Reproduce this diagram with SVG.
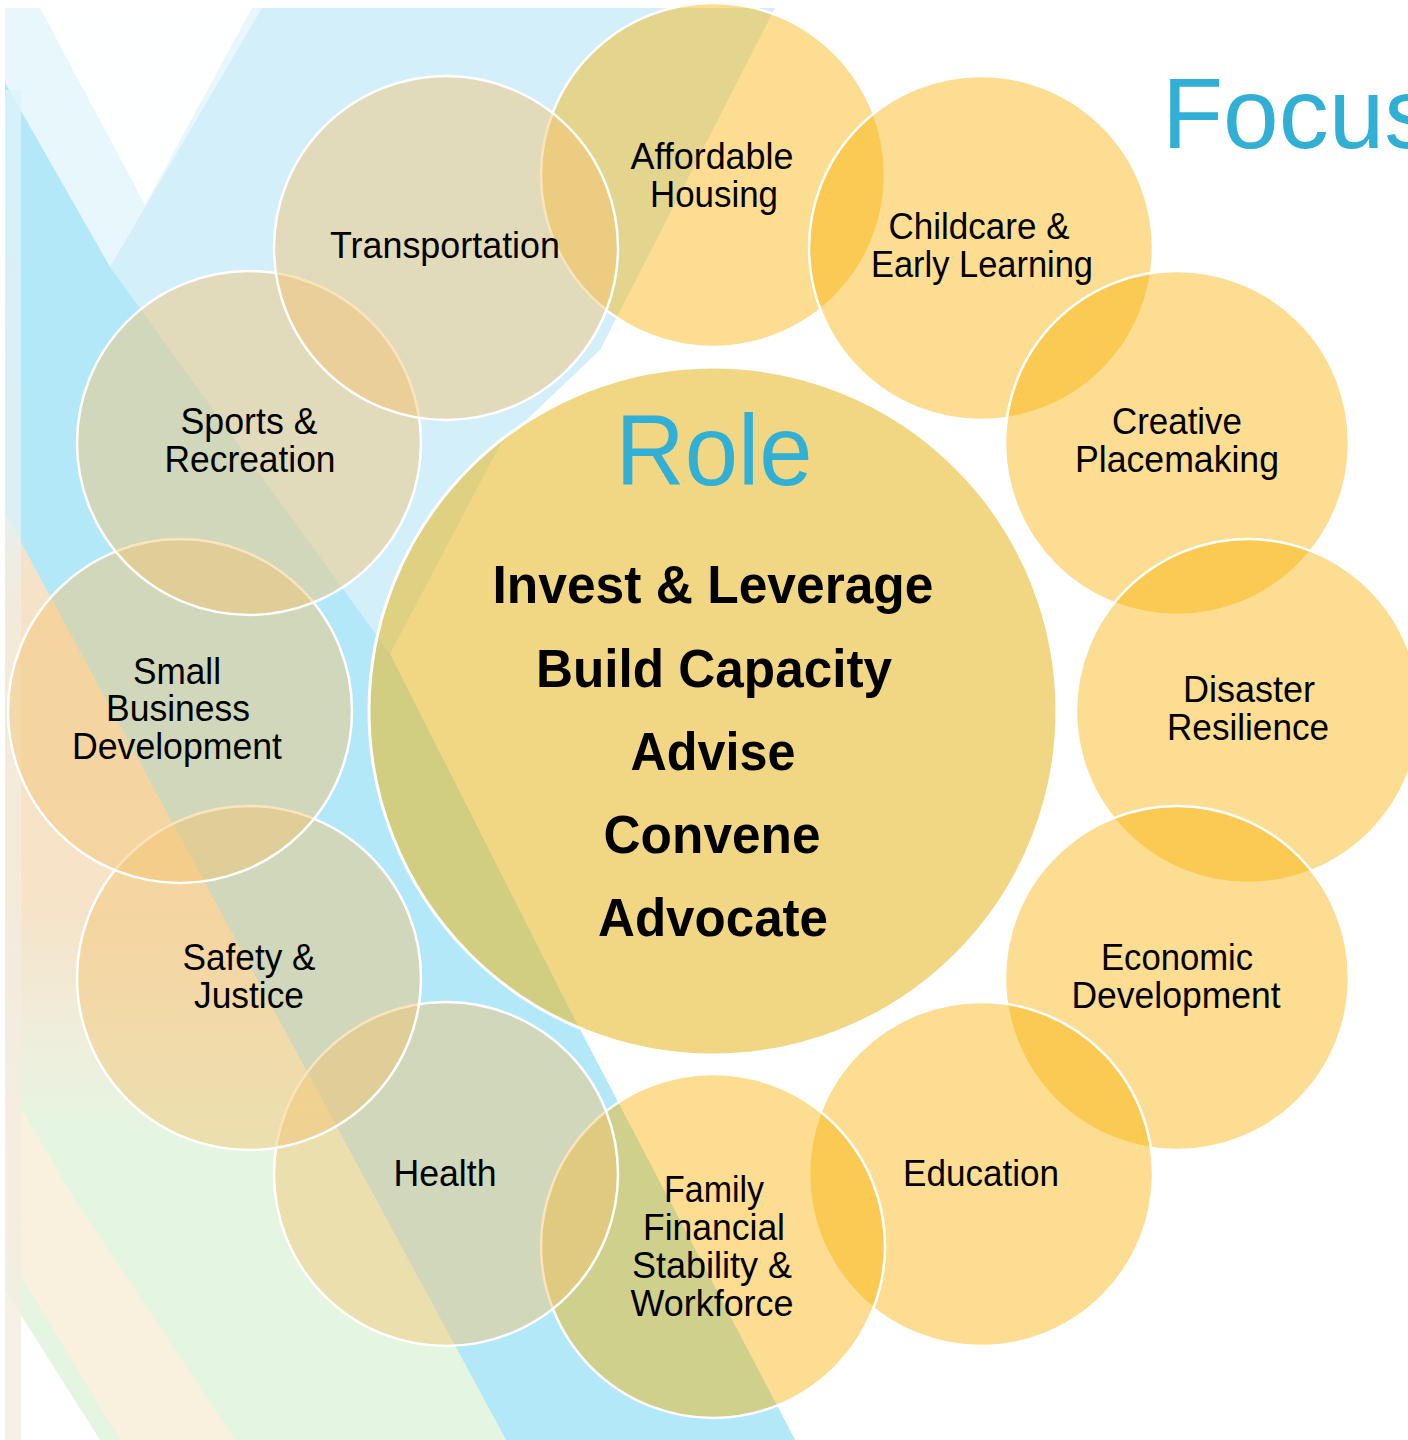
<svg xmlns="http://www.w3.org/2000/svg" width="1408" height="1440" viewBox="0 0 1408 1440">
<defs>
<style>
.gold{fill:#F8B000;fill-opacity:0.43;stroke:#FFFFFF;stroke-width:2.5}
.pale{fill:#F5C36E;fill-opacity:0.45;stroke:#FFFFFF;stroke-width:2.5}
.core{fill:#E8BC32;fill-opacity:0.6;stroke:#FFFFFF;stroke-width:3}
.lbl{font-family:"Liberation Sans",Arial,sans-serif;font-size:36px;fill:#000;text-anchor:middle}
.big{font-family:"Liberation Sans",Arial,sans-serif;font-size:54px;font-weight:bold;fill:#000;text-anchor:middle}
.ttl{font-family:"Liberation Sans",Arial,sans-serif;font-size:100px;fill:#31AFD4}
</style>
<clipPath id="pic"><rect x="5" y="8" width="823" height="1432"/></clipPath>
<linearGradient id="lowleft" gradientUnits="userSpaceOnUse" x1="0" y1="513" x2="0" y2="1440">
<stop offset="0" stop-color="#F6E2C6"/>
<stop offset="0.42" stop-color="#F6E3C8"/>
<stop offset="0.57" stop-color="#EFEEDC"/>
<stop offset="0.67" stop-color="#E4F6E2"/>
<stop offset="1" stop-color="#E4F6E2"/>
</linearGradient>
<linearGradient id="strip" gradientUnits="userSpaceOnUse" x1="0" y1="90" x2="0" y2="1440">
<stop offset="0" stop-color="#DDF3FB"/>
<stop offset="0.32" stop-color="#E6F2F2"/>
<stop offset="0.4" stop-color="#F3ECDE"/>
<stop offset="1" stop-color="#F4EEE2"/>
</linearGradient>
</defs>
<rect x="0" y="0" width="1408" height="1440" fill="#FFFFFF"/>
<g id="background" clip-path="url(#pic)">
<polygon points="5,8 775,8 600,350 500,445 390,654 575,1020 795,1440 5,1440" fill="#D3EFF9"/>
<polygon points="5,8 262,8 110,267 5,83" fill="#E7F7FC"/>
<polygon points="40,8 252,8 145,205" fill="#FFFFFF" fill-opacity="0.95"/>
<polygon points="5,83 110,267 390,654 575,1020 795,1440 506,1440 5,513" fill="#B2E8F8"/>
<polygon points="5,513 506,1440 5,1440" fill="url(#lowleft)"/>
<polygon points="5,1080 75,1200 235,1440 120,1440 5,1250" fill="#FBF0DE" fill-opacity="0.9"/>
<polygon points="5,1290 100,1440 5,1440" fill="#FFFFFF"/>
<rect x="5" y="90" width="16" height="1350" fill="url(#strip)" fill-opacity="0.8"/>
</g>
<text class="ttl" x="1162" y="148">Focus</text>
<g id="role">
<circle class="core" cx="713" cy="711" r="344"/>
<text class="ttl" x="714" y="485" text-anchor="middle" textLength="197" lengthAdjust="spacingAndGlyphs">Role</text>
<text class="big" x="713" y="603" textLength="441" lengthAdjust="spacingAndGlyphs">Invest &amp; Leverage</text>
<text class="big" x="714" y="687" textLength="356" lengthAdjust="spacingAndGlyphs">Build Capacity</text>
<text class="big" x="713" y="770" textLength="165" lengthAdjust="spacingAndGlyphs">Advise</text>
<text class="big" x="712" y="853" textLength="217" lengthAdjust="spacingAndGlyphs">Convene</text>
<text class="big" x="713" y="936" textLength="230" lengthAdjust="spacingAndGlyphs">Advocate</text>
</g>
<g id="affordable-housing">
<circle class="gold" cx="713" cy="175" r="172"/>
<text class="lbl" x="712" y="169" textLength="163" lengthAdjust="spacingAndGlyphs">Affordable</text>
<text class="lbl" x="714" y="207" textLength="128" lengthAdjust="spacingAndGlyphs">Housing</text>
</g>
<g id="childcare">
<circle class="gold" cx="981" cy="248" r="172"/>
<text class="lbl" x="979" y="239" textLength="181" lengthAdjust="spacingAndGlyphs">Childcare &amp;</text>
<text class="lbl" x="982" y="277" textLength="222" lengthAdjust="spacingAndGlyphs">Early Learning</text>
</g>
<g id="creative-placemaking">
<circle class="gold" cx="1177" cy="443" r="172"/>
<text class="lbl" x="1177" y="434" textLength="130" lengthAdjust="spacingAndGlyphs">Creative</text>
<text class="lbl" x="1177" y="472" textLength="204" lengthAdjust="spacingAndGlyphs">Placemaking</text>
</g>
<g id="disaster-resilience">
<circle class="gold" cx="1248" cy="711" r="172"/>
<text class="lbl" x="1249" y="702" textLength="132" lengthAdjust="spacingAndGlyphs">Disaster</text>
<text class="lbl" x="1248" y="740" textLength="162" lengthAdjust="spacingAndGlyphs">Resilience</text>
</g>
<g id="economic-development">
<circle class="gold" cx="1177" cy="978" r="172"/>
<text class="lbl" x="1177" y="970" textLength="152" lengthAdjust="spacingAndGlyphs">Economic</text>
<text class="lbl" x="1176" y="1008" textLength="209" lengthAdjust="spacingAndGlyphs">Development</text>
</g>
<g id="education">
<circle class="gold" cx="981" cy="1174" r="172"/>
<text class="lbl" x="981" y="1186" textLength="156" lengthAdjust="spacingAndGlyphs">Education</text>
</g>
<g id="family-financial">
<circle class="gold" cx="713" cy="1246" r="172"/>
<text class="lbl" x="714" y="1202" textLength="100" lengthAdjust="spacingAndGlyphs">Family</text>
<text class="lbl" x="714" y="1240" textLength="142" lengthAdjust="spacingAndGlyphs">Financial</text>
<text class="lbl" x="712" y="1278" textLength="160" lengthAdjust="spacingAndGlyphs">Stability &amp;</text>
<text class="lbl" x="712" y="1316" textLength="163" lengthAdjust="spacingAndGlyphs">Workforce</text>
</g>
<g id="health">
<circle class="pale" cx="446" cy="1174" r="172"/>
<text class="lbl" x="445" y="1186" textLength="103" lengthAdjust="spacingAndGlyphs">Health</text>
</g>
<g id="safety-justice">
<circle class="pale" cx="249" cy="978" r="172"/>
<text class="lbl" x="249" y="970" textLength="133" lengthAdjust="spacingAndGlyphs">Safety &amp;</text>
<text class="lbl" x="249" y="1008" textLength="110" lengthAdjust="spacingAndGlyphs">Justice</text>
</g>
<g id="small-business">
<circle class="pale" cx="180" cy="711" r="172"/>
<text class="lbl" x="177" y="684" textLength="88" lengthAdjust="spacingAndGlyphs">Small</text>
<text class="lbl" x="178" y="721" textLength="144" lengthAdjust="spacingAndGlyphs">Business</text>
<text class="lbl" x="177" y="759" textLength="210" lengthAdjust="spacingAndGlyphs">Development</text>
</g>
<g id="sports-recreation">
<circle class="pale" cx="249" cy="443" r="172"/>
<text class="lbl" x="249" y="434" textLength="137" lengthAdjust="spacingAndGlyphs">Sports &amp;</text>
<text class="lbl" x="250" y="472" textLength="171" lengthAdjust="spacingAndGlyphs">Recreation</text>
</g>
<g id="transportation">
<circle class="pale" cx="446" cy="248" r="172"/>
<text class="lbl" x="445" y="258" textLength="230" lengthAdjust="spacingAndGlyphs">Transportation</text>
</g>
<g id="connectors"></g>
</svg>
